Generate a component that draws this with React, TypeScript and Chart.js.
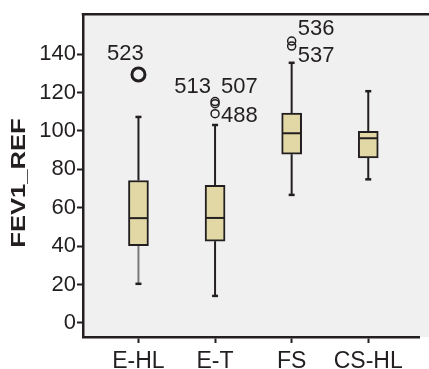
import React, { useEffect, useRef } from 'react';
import { Chart, registerables } from 'chart.js';

Chart.register(...registerables);

// ---- data ----
const categories = ['E-HL', 'E-T', 'FS', 'CS-HL'];
const whiskerLow = [20.4, 14.1, 66.7, 74.8];
const q1Values = [40.2, 42.6, 87.9, 86.0];
const medianValues = [54.6, 54.7, 98.8, 96.2];
const q3Values = [74.2, 71.7, 109.3, 99.8];
const whiskerHigh = [107.3, 103.1, 135.5, 120.7];
const outlierCategory = [0, 1, 1, 1, 2, 2];
const outlierValues = [129.4, 115.3, 114.2, 109.0, 146.8, 144.2];
const outlierIds = ['523', '513', '507', '488', '536', '537'];
const yTicks = [0, 20, 40, 60, 80, 100, 120, 140];
const yTitle = 'FEV1_REF';

// ---- style ----
const DARK = '#231f20';
const FONT = '"Liberation Sans", Arial, Helvetica, sans-serif';
const BOX_FILL = '#e2d8a5';
const PLOT_BG = '#f0f0f0';
const lowWhiskerColors = ['#7a7a7a', DARK, DARK, DARK];
const outlierRadius = [6.5, 4, 4, 4, 4, 4];
const outlierBorder = [3, 1.5, 1.5, 1.5, 1.5, 1.5];
// label offset [dx, dy, align] relative to the outlier point pixel
const labelOffsets: [number, number, CanvasTextAlign][] = [
  [-13, -21, 'center'],
  [-4, -14.5, 'right'],
  [6, -16.5, 'left'],
  [6, 2, 'left'],
  [6, -12, 'left'],
  [6, 10, 'left'],
];
const X_MIN = 0.276;
const X_MAX = 4.669;
const Y_MIN = -7.3;
const Y_MAX = 160.8;

const extrasPlugin = {
  id: 'boxExtras',
  beforeDraw(chart: any) {
    const { ctx, chartArea } = chart;
    ctx.save();
    ctx.fillStyle = PLOT_BG;
    ctx.fillRect(chartArea.left, chartArea.top, chart.width - chartArea.left, chartArea.bottom - chartArea.top);
    ctx.restore();
  },
  beforeDatasetsDraw(chart: any) {
    const { ctx } = chart;
    const xs = chart.scales.x;
    const ys = chart.scales.y;
    ctx.save();
    ctx.lineWidth = 2;
    categories.forEach((_, i) => {
      const x = xs.getPixelForValue(i + 1);
      const yHi = ys.getPixelForValue(whiskerHigh[i]);
      const yQ3 = ys.getPixelForValue(q3Values[i]);
      const yQ1 = ys.getPixelForValue(q1Values[i]);
      const yLo = ys.getPixelForValue(whiskerLow[i]);
      ctx.strokeStyle = DARK;
      ctx.beginPath();
      ctx.moveTo(x, yQ3);
      ctx.lineTo(x, yHi);
      ctx.stroke();
      ctx.lineWidth = 2.5;
      ctx.beginPath();
      ctx.moveTo(x - 3, yHi);
      ctx.lineTo(x + 3, yHi);
      ctx.stroke();
      ctx.lineWidth = 2;
      ctx.strokeStyle = lowWhiskerColors[i];
      ctx.beginPath();
      ctx.moveTo(x, yQ1);
      ctx.lineTo(x, yLo);
      ctx.stroke();
      ctx.strokeStyle = DARK;
      ctx.lineWidth = 2.5;
      ctx.beginPath();
      ctx.moveTo(x - 3, yLo);
      ctx.lineTo(x + 3, yLo);
      ctx.stroke();
      ctx.lineWidth = 2;
    });
    ctx.restore();
  },
  afterDatasetsDraw(chart: any) {
    const { ctx } = chart;
    const xs = chart.scales.x;
    const ys = chart.scales.y;
    ctx.save();
    ctx.strokeStyle = DARK;
    ctx.lineWidth = 2;
    categories.forEach((_, i) => {
      const x = xs.getPixelForValue(i + 1);
      const ym = ys.getPixelForValue(medianValues[i]);
      ctx.beginPath();
      ctx.moveTo(x - 9, ym);
      ctx.lineTo(x + 9, ym);
      ctx.stroke();
    });
    ctx.fillStyle = DARK;
    ctx.font = `22px ${FONT}`;
    ctx.textBaseline = 'middle';
    outlierIds.forEach((id, i) => {
      const px = xs.getPixelForValue(outlierCategory[i] + 1);
      const py = ys.getPixelForValue(outlierValues[i]);
      const [dx, dy, align] = labelOffsets[i];
      ctx.textAlign = align;
      ctx.fillText(id, px + dx, py + dy);
    });
    ctx.restore();
  },
  afterDraw(chart: any) {
    const { ctx, chartArea } = chart;
    ctx.save();
    ctx.strokeStyle = DARK;
    ctx.lineWidth = 2.5;
    ctx.beginPath();
    ctx.moveTo(chartArea.left - 1.25, chartArea.top);
    ctx.lineTo(chart.width, chartArea.top);
    ctx.stroke();
    // y axis title (stretched along its length like the reference)
    ctx.translate(19.5, 183);
    ctx.rotate(-Math.PI / 2);
    ctx.scale(1.28, 1);
    ctx.font = `bold 20px ${FONT}`;
    ctx.fillStyle = DARK;
    ctx.textAlign = 'center';
    ctx.textBaseline = 'middle';
    ctx.fillText(yTitle, 0, 0);
    ctx.restore();
  },
};

export default function App() {
  const canvasRef = useRef<HTMLCanvasElement | null>(null);

  useEffect(() => {
    if (!canvasRef.current) return;
    const chart = new Chart(canvasRef.current, {
      type: 'bar',
      data: {
        datasets: [
          {
            type: 'bar',
            data: categories.map((_, i) => ({ x: i + 1, y: [q1Values[i], q3Values[i]] })) as any,
            backgroundColor: BOX_FILL,
            borderColor: DARK,
            borderWidth: 2,
            borderSkipped: false,
            barThickness: 20,
          } as any,
          {
            type: 'scatter',
            data: outlierValues.map((v, i) => ({ x: outlierCategory[i] + 1, y: v })),
            pointRadius: outlierRadius,
            pointBorderWidth: outlierBorder,
            borderColor: DARK,
            backgroundColor: 'rgba(0,0,0,0)',
            pointStyle: 'circle',
          } as any,
        ],
      },
      options: {
        responsive: false,
        animation: false,
        layout: { padding: { left: 0, right: 0, top: 13, bottom: 0 } },
        plugins: {
          legend: { display: false },
          tooltip: { enabled: false },
        },
        scales: {
          x: {
            type: 'linear',
            min: X_MIN,
            max: X_MAX,
            offset: false,
            afterBuildTicks: (s: any) => {
              s.ticks = categories.map((_, i) => ({ value: i + 1 }));
            },
            afterFit: (s: any) => {
              s.height = 32;
            },
            ticks: {
              callback: (v: any) => categories[Number(v) - 1] ?? '',
              font: { family: FONT, size: 23 },
              color: DARK,
              padding: 5,
              maxRotation: 0,
              autoSkip: false,
            },
            grid: { offset: false, drawOnChartArea: false, tickLength: 6, tickWidth: 2, color: DARK },
            border: { display: true, color: DARK, width: 2.5 },
          },
          y: {
            type: 'linear',
            min: Y_MIN,
            max: Y_MAX,
            afterBuildTicks: (s: any) => {
              s.ticks = yTicks.map((v) => ({ value: v }));
            },
            afterFit: (s: any) => {
              s.width = 83;
            },
            ticks: {
              font: { family: FONT, size: 22 },
              color: DARK,
              padding: 1,
            },
            grid: { drawOnChartArea: false, tickLength: 6, tickWidth: 2, color: DARK },
            border: { display: true, color: DARK, width: 2.5 },
          },
        },
      } as any,
      plugins: [extrasPlugin],
    });
    return () => chart.destroy();
  }, []);

  return (
    <div style={{ position: 'fixed', left: 0, top: 0, width: 429, height: 369, background: '#fff' }}>
      <canvas ref={canvasRef} width={429} height={369} style={{ display: 'block' }} />
    </div>
  );
}
